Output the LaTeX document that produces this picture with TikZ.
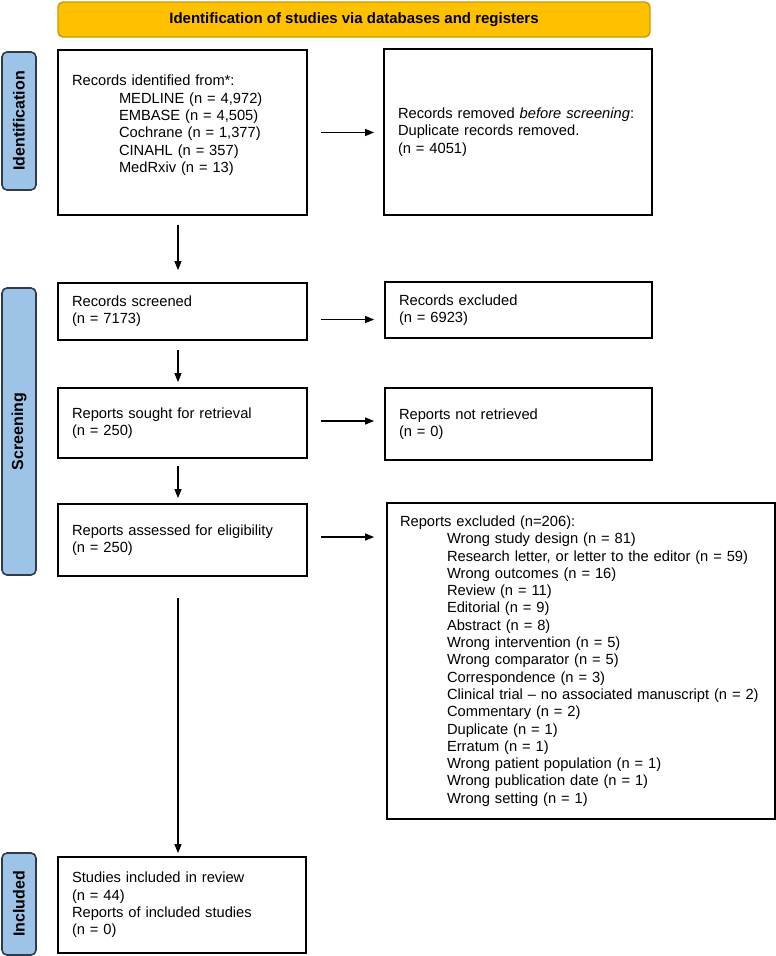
\documentclass[tikz,border=0pt]{standalone}
\usepackage{fontspec}
\setmainfont{Liberation Sans}
\usepackage{tikz}
\usetikzlibrary{arrows.meta}
\usepackage{xcolor}

\definecolor{headyellow}{HTML}{FFC000}
\definecolor{headedge}{HTML}{C99A06}
\definecolor{sideblue}{HTML}{9DC3E6}
\definecolor{sideedge}{HTML}{2E3B4A}

\newcommand{\ind}{\hspace*{47pt}}
\hyphenpenalty=10000
\exhyphenpenalty=10000

\begin{document}
\begin{tikzpicture}[
    x=1pt, y=-1pt,
    box/.style={rectangle, draw=black, line width=1.8pt, align=left, inner xsep=14pt, inner ysep=0pt, font=\fontsize{14.7}{17.3}\selectfont},
    head/.style={rectangle, draw=headedge, fill=headyellow, line width=1.4pt, rounded corners=5pt, minimum width=592pt, minimum height=35pt, font=\fontsize{15}{17}\selectfont\bfseries},
    side/.style={rectangle, draw=sideedge, fill=sideblue, line width=1.6pt, rounded corners=5pt, rotate=90, minimum height=34pt, inner sep=0pt, font=\fontsize{16}{18}\selectfont\bfseries},
    arrow/.style={-{Triangle[length=9pt, width=7pt]}, line width=1.2pt, color=black}
]
\useasboundingbox (0,0) rectangle (776,956);

% Header
\node[head] (header) at (354,19.5) {Identification of studies via databases and registers};

% Side labels
\node[side, minimum width=138pt] (identlab) at (19,121) {Identification};
\node[side, minimum width=287pt] (screenlab) at (19,431.5) {Screening};
\node[side, minimum width=102pt] (inclab) at (19,904) {Included};

% Left column
\node[box, text width=221pt, minimum height=165pt] (records) at (182.5,132.5) {Records identified from*:\\
\ind MEDLINE (n = 4,972)\\
\ind EMBASE (n = 4,505)\\
\ind Cochrane (n = 1,377)\\
\ind CINAHL (n = 357)\\
\ind MedRxiv (n = 13)\\ \mbox{}};
\node[box, text width=221pt, minimum height=57pt] (screened) at (182.5,311.5) {Records screened\\(n = 7173)};
\node[box, text width=221pt, minimum height=70pt] (sought) at (182.5,423) {Reports sought for retrieval\\(n = 250)};
\node[box, text width=221pt, minimum height=72pt] (assessed) at (182.5,540) {Reports assessed for eligibility\\(n = 250)};
\node[box, text width=220pt, minimum height=96pt] (included) at (182,905) {Studies included in review\\(n = 44)\\Reports of included studies\\(n = 0)};

% Right column
\node[box, text width=240pt, minimum height=166pt] (removed) at (518,132) {Records removed \textit{before screening}:\\Duplicate records removed.\\(n = 4051)};
\node[box, text width=239pt, minimum height=56pt] (excluded) at (518.5,310) {Records excluded\\(n = 6923)};
\node[box, text width=239pt, minimum height=72pt] (notretr) at (518.5,424) {Reports not retrieved\\(n = 0)};
\node[box, text width=362pt, inner xsep=13pt, minimum height=316pt] (repexcl) at (581,661) {Reports excluded (n=206):\\
\ind Wrong study design (n = 81)\\
\ind Research letter, or letter to the editor (n = 59)\\
\ind Wrong outcomes (n = 16)\\
\ind Review (n = 11)\\
\ind Editorial (n = 9)\\
\ind Abstract (n = 8)\\
\ind Wrong intervention (n = 5)\\
\ind Wrong comparator (n = 5)\\
\ind Correspondence (n = 3)\\
\ind Clinical trial – no associated manuscript (n = 2)\\
\ind Commentary (n = 2)\\
\ind Duplicate (n = 1)\\
\ind Erratum (n = 1)\\
\ind Wrong patient population (n = 1)\\
\ind Wrong publication date (n = 1)\\
\ind Wrong setting (n = 1)};

% Arrows to the right
\draw[arrow, shorten <=13pt, shorten >=9pt] (records.east) -- (records.east -| removed.west);
\draw[arrow, shorten <=13pt, shorten >=10pt] ([yshift=-8pt]screened.east) -- ([yshift=-8pt]screened.east -| excluded.west);
\draw[arrow, shorten <=13pt, shorten >=10pt] ([yshift=2pt]sought.east) -- ([yshift=2pt]sought.east -| notretr.west);
\draw[arrow, shorten <=13pt, shorten >=12pt] ([yshift=3pt]assessed.east) -- ([yshift=3pt]assessed.east -| repexcl.west);

% Arrows down
\draw[arrow, shorten <=9pt, shorten >=12pt] ([xshift=-4.5pt]records.south) -- ([xshift=-4.5pt]screened.north);
\draw[arrow, shorten <=9pt, shorten >=5pt] ([xshift=-4.5pt]screened.south) -- ([xshift=-4.5pt]sought.north);
\draw[arrow, shorten <=7pt, shorten >=5pt] ([xshift=-4.5pt]sought.south) -- ([xshift=-4.5pt]assessed.north);
\draw[arrow, shorten <=21pt, shorten >=3pt] ([xshift=-4.5pt]assessed.south) -- ([xshift=-4pt]included.north);

\end{tikzpicture}
\end{document}
